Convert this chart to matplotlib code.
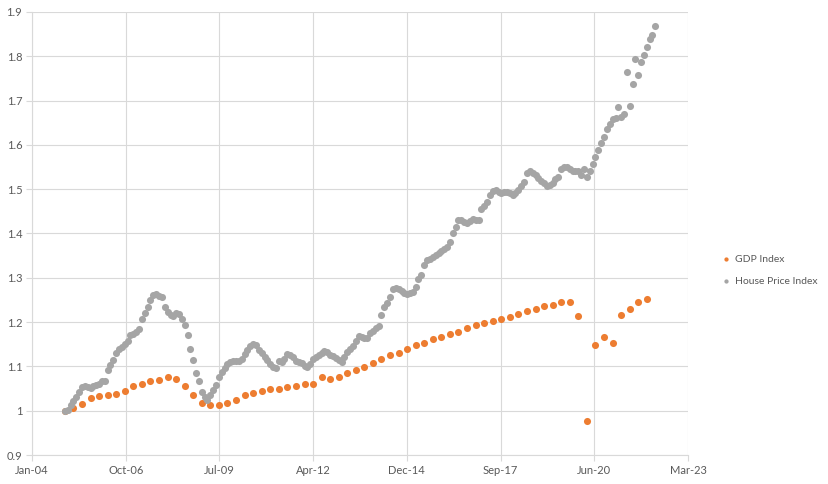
import numpy as np
import pandas as pd
import matplotlib
matplotlib.use("Agg")
import matplotlib.pyplot as plt
import matplotlib.dates as mdates

# GDP index, quarterly from Q1 2005
gdp_start = "2005-01-01"
gdp = [1.000, 1.007, 1.016, 1.029, 1.034, 1.036, 1.038, 1.045, 1.055, 1.060,
       1.066, 1.069, 1.077, 1.071, 1.056, 1.035, 1.017, 1.013, 1.013, 1.017,
       1.024, 1.035, 1.041, 1.044, 1.049, 1.049, 1.053, 1.055, 1.061, 1.061,
       1.075, 1.072, 1.077, 1.086, 1.093, 1.098, 1.108, 1.117, 1.126, 1.131,
       1.139, 1.148, 1.153, 1.162, 1.167, 1.174, 1.178, 1.187, 1.193, 1.198,
       1.203, 1.208, 1.212, 1.219, 1.226, 1.230, 1.237, 1.239, 1.245, 1.245,
       1.213, 0.977, 1.149, 1.166, 1.152, 1.217, 1.229, 1.245, 1.253]

# House price index, monthly from Jan 2005
hpi_start = "2005-01-01"
hpi = [1.000, 1.002, 1.012, 1.022, 1.032, 1.043, 1.053, 1.056, 1.054, 1.052,
       1.056, 1.058, 1.060, 1.066, 1.068, 1.093, 1.103, 1.114, 1.130, 1.139,
       1.143, 1.150, 1.157, 1.170, 1.174, 1.178, 1.185, 1.206, 1.220, 1.235,
       1.250, 1.261, 1.263, 1.259, 1.256, 1.233, 1.222, 1.215, 1.214, 1.220,
       1.219, 1.206, 1.193, 1.170, 1.139, 1.114, 1.084, 1.067, 1.043, 1.032,
       1.024, 1.035, 1.047, 1.058, 1.077, 1.088, 1.097, 1.105, 1.110, 1.113,
       1.112, 1.112, 1.116, 1.128, 1.137, 1.146, 1.151, 1.148, 1.138, 1.130,
       1.122, 1.114, 1.105, 1.099, 1.097, 1.112, 1.111, 1.117, 1.128, 1.126,
       1.121, 1.113, 1.110, 1.107, 1.100, 1.098, 1.106, 1.116, 1.122, 1.126,
       1.131, 1.135, 1.133, 1.126, 1.123, 1.120, 1.114, 1.111, 1.122, 1.133,
       1.140, 1.146, 1.158, 1.169, 1.167, 1.164, 1.163, 1.175, 1.181, 1.186,
       1.192, 1.216, 1.233, 1.242, 1.257, 1.275, 1.276, 1.274, 1.271, 1.266,
       1.263, 1.266, 1.269, 1.280, 1.297, 1.306, 1.329, 1.340, 1.342, 1.346,
       1.352, 1.357, 1.361, 1.364, 1.369, 1.381, 1.400, 1.414, 1.430, 1.430,
       1.427, 1.423, 1.429, 1.432, 1.431, 1.430, 1.455, 1.462, 1.472, 1.487,
       1.497, 1.498, 1.494, 1.492, 1.494, 1.493, 1.492, 1.487, 1.492, 1.498,
       1.507, 1.517, 1.536, 1.540, 1.537, 1.532, 1.526, 1.519, 1.513, 1.507,
       1.510, 1.515, 1.522, 1.528, 1.545, 1.551, 1.551, 1.545, 1.542, 1.540,
       1.540, 1.532, 1.545, 1.528, 1.540, 1.558, 1.573, 1.588, 1.605, 1.617,
       1.635, 1.647, 1.658, 1.660, 1.685, 1.662, 1.670, 1.765, 1.688, 1.737,
       1.795, 1.757, 1.788, 1.803, 1.822, 1.838, 1.848, 1.869]

gdp_dates = pd.date_range(gdp_start, periods=len(gdp), freq="QS")
hpi_dates = pd.date_range(hpi_start, periods=len(hpi), freq="MS")

plt.rcParams['font.family'] = ['Lato', 'DejaVu Sans']

fig = plt.figure(figsize=(8.29, 4.84), dpi=100)
ax = fig.add_axes([32 / 829, 1 - 455 / 484, (688 - 32) / 829, (455 - 12) / 484])

ax.scatter(gdp_dates, gdp, s=26, color="#ED7D31", linewidths=0, label="GDP Index", zorder=3)
ax.scatter(hpi_dates, hpi, s=26, color="#A5A5A5", linewidths=0, label="House Price Index", zorder=4)

# excel style date axis: 1000 day steps
x0 = mdates.date2num(pd.Timestamp("2004-01-15"))
ax.set_xlim(x0, x0 + 7000)
ax.set_xticks([x0 + 1000 * k for k in range(8)])
ax.xaxis.set_major_formatter(mdates.DateFormatter("%b-%y"))
ax.set_ylim(0.9, 1.9)
ax.set_yticks(np.arange(0.9, 1.91, 0.1))
ax.set_yticklabels(["0.9", "1", "1.1", "1.2", "1.3", "1.4", "1.5", "1.6", "1.7", "1.8", "1.9"])

ax.grid(True, color="#D9D9D9", linewidth=0.8)
ax.set_axisbelow(True)
for s in ["top", "right"]:
    ax.spines[s].set_visible(False)
for s in ["left", "bottom"]:
    ax.spines[s].set_color("#D9D9D9")
ax.tick_params(colors="#595959", labelsize=8, length=4, width=0.8, pad=3)
ax.tick_params(axis="both", color="#D9D9D9")

fig.legend(loc="center left", bbox_to_anchor=(721 / 829, 1 - 270 / 484), frameon=False,
           fontsize=7.5, labelcolor="#595959", markerscale=0.6, handlelength=1.0,
           handletextpad=0.3, labelspacing=1.2, borderpad=0, borderaxespad=0)

fig.savefig("out.png", dpi=100)
